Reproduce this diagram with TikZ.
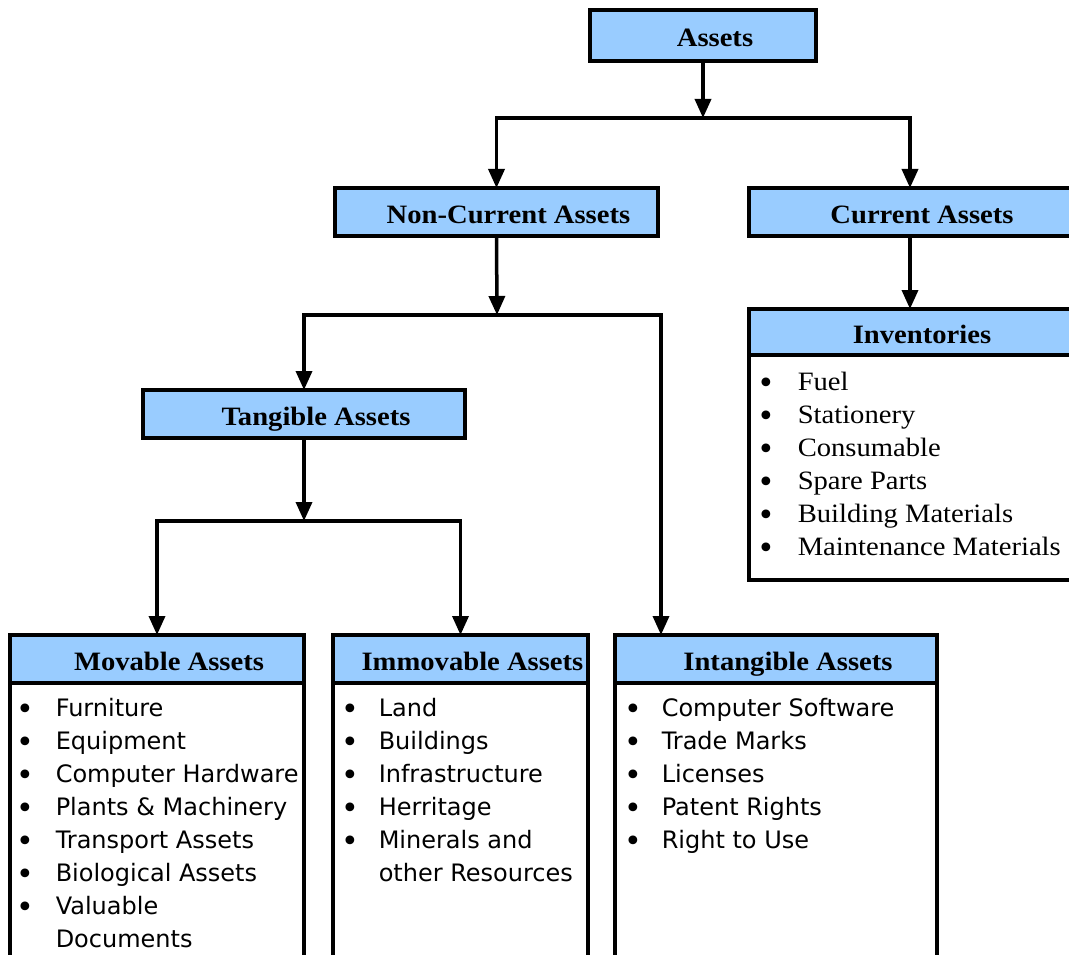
\documentclass[tikz,border=0pt]{standalone}
\usepackage{fontspec}
\setmainfont{Liberation Serif}[FakeStretch=1.08]
\newfontfamily\listfont{DejaVu Sans}
\usetikzlibrary{arrows.meta,positioning}
\definecolor{boxblue}{HTML}{99CCFF}
\newcommand{\bul}{\makebox[0pt]{\raisebox{-3pt}{\listfont\fontsize{30}{33}\selectfont\textbullet}}}
\newcommand{\itemlist}[2]{\begin{tabular}{@{}l@{\hspace{#1}}l@{}}#2\end{tabular}}
\tikzset{
  head/.style={draw, fill=boxblue, outer sep=0pt, inner sep=0pt,
    text height=23pt, text depth=0pt, font=\fontsize{26.5}{30}\selectfont\bfseries,
    execute at begin node=\hspace*{24pt}},
  body/.style={draw, fill=white, outer sep=0pt, inner sep=0pt, anchor=north},
  items/.style={anchor=north west, inner sep=0pt, font=\listfont\fontsize{24}{33}\selectfont},
  invitems/.style={anchor=north west, inner sep=0pt, font=\fontsize{26.5}{33}\selectfont},
  arr/.style={-{Triangle[width=16pt,length=19pt]}}
}
\begin{document}
\begin{tikzpicture}[x=1pt, y=-1pt, line width=3.5pt]
  \useasboundingbox (0,0) rectangle (1069,955);
  \clip (0,0) rectangle (1069,955);
  %Kopfzeilen
  \node[head, minimum width=226pt, minimum height=51pt] (assets) at (703,35.5) {Assets};
  \node[head, minimum width=323pt, minimum height=48pt] (noncur) at (496.5,212) {Non-Current Assets};
  \node[head, minimum width=322pt, minimum height=48pt] (cur) at (910,212) {Current Assets};
  \node[head, minimum width=322pt, minimum height=46pt] (inv) at (910,332) {Inventories};
  \node[head, minimum width=322pt, minimum height=48pt] (tang) at (304,414) {Tangible Assets};
  \node[head, minimum width=294pt, minimum height=48pt] (mov) at (157,659) {Movable Assets};
  \node[head, minimum width=255pt, minimum height=48pt] (immov) at (460.5,659) {Immovable Assets};
  \node[head, minimum width=322pt, minimum height=48pt] (intang) at (776,659) {Intangible Assets};
  %Listenfelder
  \node[body, minimum width=322pt, minimum height=225pt] (invbody) at (inv.south) {};
  \node[body, minimum width=294pt, minimum height=320pt] (movbody) at (mov.south) {};
  \node[body, minimum width=255pt, minimum height=320pt] (immovbody) at (immov.south) {};
  \node[body, minimum width=322pt, minimum height=320pt] (intangbody) at (intang.south) {};
  %Listen
  \node[invitems] (invlist) at (765,365.9) {\itemlist{31pt}{%
    \bul & Fuel\\ \bul & Stationery\\ \bul & Consumable\\ \bul & Spare Parts\\
    \bul & Building Materials\\ \bul & Maintenance Materials}};
  \node[items] (movlist) at (24,691.9) {\itemlist{30pt}{%
    \bul & Furniture\\ \bul & Equipment\\ \bul & Computer Hardware\\
    \bul & Plants \& Machinery\\ \bul & Transport Assets\\ \bul & Biological Assets\\
    \bul & Valuable\\ & Documents}};
  \node[items] (immovlist) at (349,691.9) {\itemlist{28pt}{%
    \bul & Land\\ \bul & Buildings\\ \bul & Infrastructure\\ \bul & Herritage\\
    \bul & Minerals and\\ & other Resources}};
  \node[items] (intanglist) at (632,691.9) {\itemlist{28pt}{%
    \bul & Computer Software\\ \bul & Trade Marks\\ \bul & Licenses\\
    \bul & Patent Rights\\ \bul & Right to Use}};
  %Verbindungen
  \coordinate (j1) at (703,118);
  \coordinate (j2) at (497,315);
  \coordinate (j3) at (304,521);
  \coordinate (intangin) at ([xshift=46pt]intang.north west);
  \draw[arr] (assets.south) -- (j1);
  \draw[arr] (j1) -| (noncur.north);
  \draw[arr] (j1) -| (cur.north);
  \draw[arr] (cur.south) -- (inv.north);
  \draw[arr] (noncur.south) -- (j2);
  \draw[arr] (j2) -| (tang.north);
  \draw[arr] (j2) -| (intangin);
  \draw[arr] (tang.south) -- (j3);
  \draw[arr] (j3) -| (mov.north);
  \draw[arr] (j3) -| (immov.north);
\end{tikzpicture}
\end{document}
